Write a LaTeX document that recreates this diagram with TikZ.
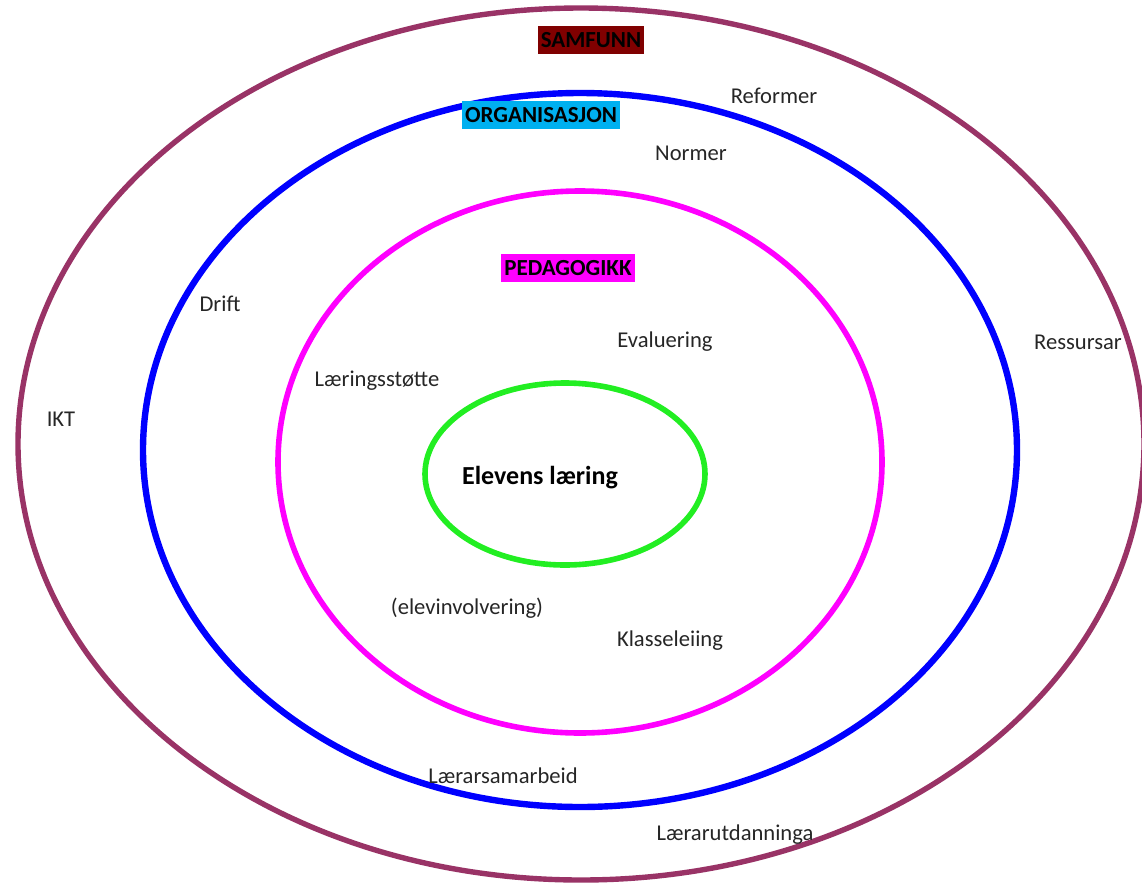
\documentclass[tikz,border=0pt]{standalone}
\usepackage{fontspec}
\setmainfont{Carlito}
\usepackage{xcolor}
\usepackage{tikz}

\definecolor{samfunnring}{HTML}{993366}
\definecolor{samfunnbg}{HTML}{800000}
\definecolor{orgring}{HTML}{0000FF}
\definecolor{orgbg}{HTML}{00B0F0}
\definecolor{pedring}{HTML}{FF00FF}
\definecolor{elevring}{HTML}{22EE22}

\tikzset{
    ord/.style={font=\fontsize{11.3}{13}\selectfont, text=black!85},
    tittel/.style={font=\fontsize{11.5}{13}\selectfont\bfseries, text=black,
        inner xsep=1.5pt, inner ysep=3pt},
}

\begin{document}
\begin{tikzpicture}[x=0.5pt,y=-0.5pt]
        \useasboundingbox (0,0) rectangle (1142,885);
        \clip (0,0) rectangle (1142,885);
        % ringane
        \draw[samfunnring, line width=2.7pt] (581,444) ellipse [x radius=563, y radius=436];
        \draw[orgring, line width=3.2pt] (580,450) ellipse [x radius=437, y radius=357];
        \draw[pedring, line width=2.8pt] (580,462) ellipse [x radius=302, y radius=271];
        \draw[elevring, line width=2.8pt] (565,474) ellipse [x radius=140, y radius=91];
        % titlar
        \node[tittel, fill=samfunnbg] (samfunn) at (591,40) {SAMFUNN};
        \node[tittel, fill=orgbg] (organisasjon) at (541,115) {ORGANISASJON};
        \node[tittel, fill=pedring] (pedagogikk) at (568,268) {PEDAGOGIKK};
        \node[ord, font=\fontsize{13}{15}\selectfont\bfseries, text=black] (elevens) at (540,478) {Elevens læring};
        % ord
        \node[ord] (reformer) at (774,96) {Reformer};
        \node[ord] (normer) at (691,153) {Normer};
        \node[ord] (drift) at (220,304) {Drift};
        \node[ord] (evaluering) at (665,342) {Evaluering};
        \node[ord] (ressursar) at (1078,342) {Ressursar};
        \node[ord] (laeringsstotte) at (377,381) {Læringsstøtte};
        \node[ord] (ikt) at (61,419) {IKT};
        \node[ord] (elevinv) at (467,608) {(elevinvolvering)};
        \node[ord] (klasseleiing) at (670,641) {Klasseleiing};
        \node[ord] (samarbeid) at (503,776) {Lærarsamarbeid};
        \node[ord] (utdanning) at (735,835) {Lærarutdanninga};
    \end{tikzpicture}
\end{document}
